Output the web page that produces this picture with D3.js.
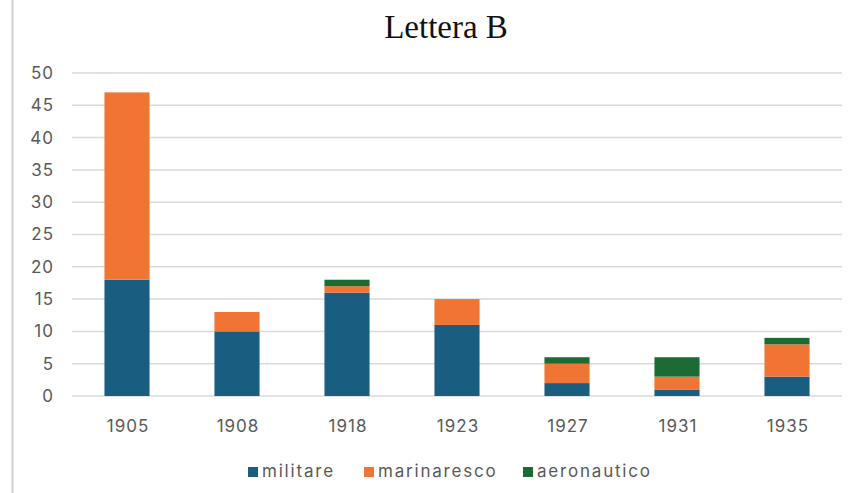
<!DOCTYPE html>
<html>
<head>
<meta charset="utf-8">
<script src="https://cdn.jsdelivr.net/npm/d3@7"></script>
<style>
  body { margin: 0; background: #fff; }
  .axis text { font-family: Inter, "Open Sans", sans-serif; font-size: 17px; letter-spacing: 1px; fill: #595959; }
  .legend { font-family: Inter, "Open Sans", sans-serif; font-size: 17px; letter-spacing: 1.8px; fill: #595959; }
  .plotTitle { font-family: "Liberation Serif", "DejaVu Serif", serif; font-size: 33px; fill: #111; }
</style>
</head>
<body>
<svg id="chart" width="868" height="493"></svg>
<script>
const years = ["1905", "1908", "1918", "1923", "1927", "1931", "1935"]
const militare = [18, 10, 16, 11, 2, 1, 3]
const marinaresco = [29, 3, 1, 4, 3, 2, 5]
const aeronautico = [0, 0, 1, 0, 1, 3, 1]
const seriesNames = ["militare", "marinaresco", "aeronautico"]
const seriesColors = ["#195e80", "#f07434", "#1d6b34"]
const yTicks = [0, 5, 10, 15, 20, 25, 30, 35, 40, 45, 50]

let svg = d3.select("#chart")

// frame line on the left
svg.append("line")
    .attr("x1", 12.5).attr("x2", 12.5)
    .attr("y1", 0).attr("y2", 493)
    .attr("stroke", "#d0d0d0").attr("stroke-width", 2)

let rows = years.map(function (y, i) {
    return {year: y, militare: militare[i], marinaresco: marinaresco[i], aeronautico: aeronautico[i]}
})
let stacked = d3.stack().keys(seriesNames)(rows)

let xScale = d3.scaleBand().domain(years).range([72, 842]).paddingInner(0.59).paddingOuter(0.295)
let yScale = d3.scaleLinear().domain([0, 50]).range([396, 73])

// grid
svg.append("g").selectAll("line")
    .data(yTicks)
    .enter()
    .append("line")
    .attr("x1", 72).attr("x2", 842)
    .attr("y1", d => yScale(d)).attr("y2", d => yScale(d))
    .attr("stroke", "#d9d9d9").attr("stroke-width", 1.5)

// bars
stacked.forEach(function (s, k) {
    svg.append("g").attr("fill", seriesColors[k])
        .selectAll("rect")
        .data(s)
        .enter()
        .append("rect")
        .attr("x", d => xScale(d.data.year))
        .attr("width", xScale.bandwidth())
        .attr("y", d => yScale(d[1]))
        .attr("height", d => yScale(d[0]) - yScale(d[1]))
})

// y axis labels
let y_axis = d3.axisLeft(yScale).tickValues(yTicks).tickSize(0).tickPadding(0)
svg.append("g").attr("class", "axis")
    .attr("transform", "translate(54,0)")
    .call(y_axis)
    .call(g => g.select(".domain").remove())

// x axis labels
let x_axis = d3.axisBottom(xScale).tickSize(0).tickPadding(16)
svg.append("g").attr("class", "axis")
    .attr("transform", "translate(1,404)")
    .call(x_axis)
    .call(g => g.select(".domain").remove())

// title
svg.append("text")
    .attr("class", "plotTitle")
    .attr("x", 446).attr("y", 38)
    .attr("text-anchor", "middle")
    .text("Lettera B")

// legend
let legendX = [248, 364, 523]
seriesNames.forEach(function (d, i) {
    let lgnd = svg.append("g").attr("transform", `translate(${legendX[i]},467)`)
    lgnd.append("rect").attr("width", 10).attr("height", 10).attr("fill", seriesColors[i])
    lgnd.append("text").attr("class", "legend").attr("x", 14).attr("y", 10).text(d)
})
</script>
</body>
</html>
